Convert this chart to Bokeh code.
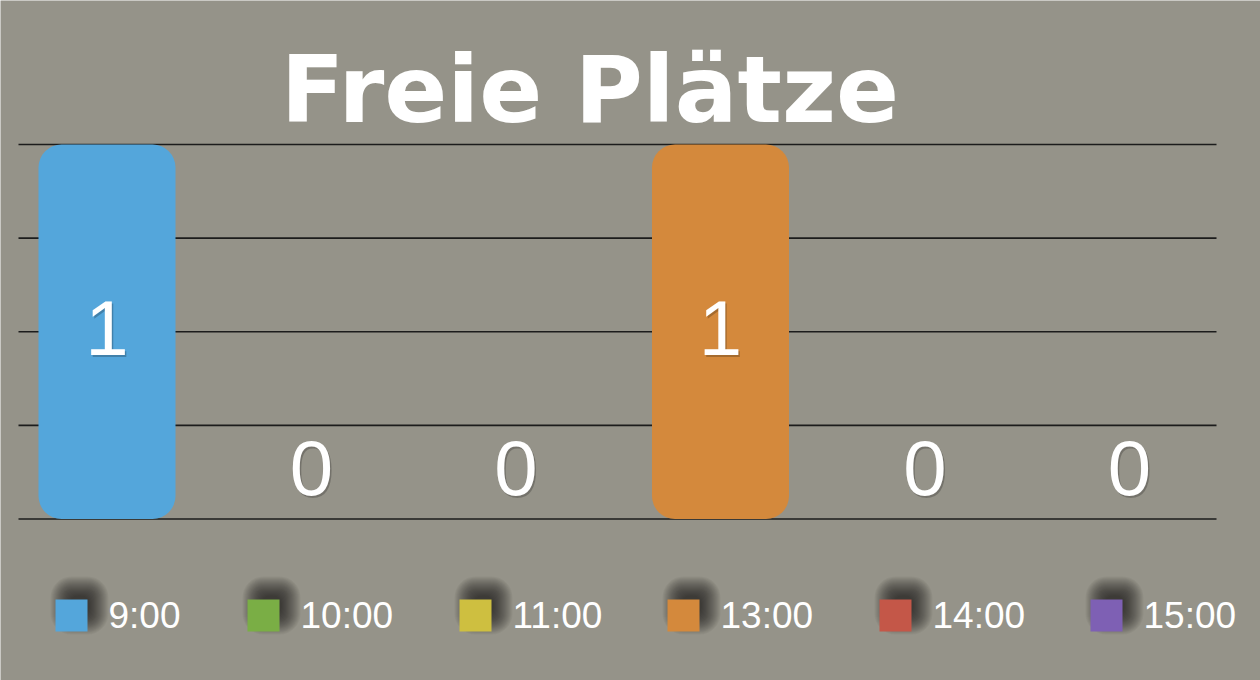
from bokeh.plotting import figure
from bokeh.models import Range1d, ColumnDataSource
from bokeh.core.properties import value
from bokeh.embed import file_html
from bokeh.resources import INLINE

# ---- data ----
categories = ["9:00", "10:00", "11:00", "13:00", "14:00", "15:00"]
values = [1, 0, 0, 1, 0, 0]
colors = ["#54a6db", "#7aae45", "#cebf40", "#d4893c", "#c45748", "#7e60b4"]
grid_ticks = [0, 0.25, 0.5, 0.75, 1.0]
title_text = "Freie Plätze"

# ---- layout constants (page pixels) ----
BG = "#959389"
W, H = 1260, 680
legend_sq_left = [55, 247, 459, 667, 879, 1090]
legend_y = 615
SQ = 32

p = figure(width=W, height=H,
           x_range=Range1d(-0.02078, 6.1406), y_range=Range1d(-0.4312, 1.3845),
           output_backend="svg", toolbar_location=None,
           x_axis_location=None, y_axis_location=None, min_border=0)
p.extra_x_ranges = {"px": Range1d(0, W)}
p.extra_y_ranges = {"px": Range1d(H, 0)}
p.grid.visible = False
p.outline_line_color = None
p.background_fill_color = BG
p.border_fill_color = BG

# grid lines
p.segment(x0=[18] * len(grid_ticks), x1=[1216] * len(grid_ticks),
          y0=grid_ticks, y1=grid_ticks, x_range_name="px",
          line_color="#1c1c1c", line_width=1.6)

xs = [i + 0.5 for i in range(len(categories))]
src = ColumnDataSource(dict(x=xs, top=values, color=colors,
                            label=[str(v) for v in values],
                            ly=[v / 2 if v > 0 else 0.125 for v in values]))

p.vbar(x="x", top="top", bottom=0, width=0.67, color="color", source=src,
       line_color=None, border_radius=23)

# value labels (with soft shadow)
p.text(x="x", y="ly", text="label", source=src, text_align="center",
       text_baseline="middle", text_font=value("Liberation Sans"),
       text_font_size="78px", text_color="#000000", text_alpha=0.22,
       x_offset=1.5, y_offset=-2)
p.text(x="x", y="ly", text="label", source=src, text_align="center",
       text_baseline="middle", text_font=value("Liberation Sans"),
       text_font_size="78px", text_color="#ffffff", y_offset=-4)

# title
p.text(x=[589.5], y=[89], text=[title_text], x_range_name="px", y_range_name="px",
       text_align="center", text_baseline="alphabetic",
       text_font=value("DejaVu Sans"), text_font_style="bold",
       text_font_size="93px", text_color="#ffffff")

# legend: blurred shadow approximated by stacked translucent rounded squares
cx = [l + SQ / 2 for l in legend_sq_left]
for k in range(13, -7, -1):
    s = SQ + 2 * k
    p.rect(x=[c + 8 for c in cx], y=[legend_y - 10] * len(cx), width=s, height=s,
           width_units="screen", height_units="screen",
           x_range_name="px", y_range_name="px",
           fill_color="#000000", fill_alpha=0.04, line_color=None,
           border_radius=max(k, 0) + 8)
p.rect(x=cx, y=[legend_y] * len(cx), width=SQ, height=SQ,
       width_units="screen", height_units="screen",
       x_range_name="px", y_range_name="px",
       fill_color=colors, line_color=None)
p.text(x=[l + 53 for l in legend_sq_left], y=[legend_y] * len(cx), text=categories,
       x_range_name="px", y_range_name="px",
       text_align="left", text_baseline="middle",
       text_font=value("Liberation Sans"), text_font_size="37px",
       text_color="#ffffff")

open("out.html", "w").write(file_html(p, INLINE))
